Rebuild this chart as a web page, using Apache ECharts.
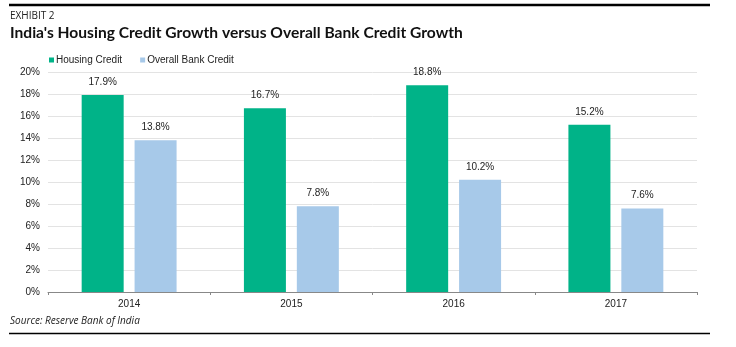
<!DOCTYPE html>
<html><head><meta charset="utf-8">
<script src="https://cdn.jsdelivr.net/npm/echarts@6/dist/echarts.min.js"></script>
<style>html,body{margin:0;padding:0;background:#fff}#c{width:736px;height:347px}</style>
</head><body><div id="c"></div>
<script>
var categories = ['2014', '2015', '2016', '2017'];
var housingCredit = [17.9, 16.7, 18.8, 15.2];
var bankCredit = [13.8, 7.8, 10.2, 7.6];
var yTicks = [0, 2, 4, 6, 8, 10, 12, 14, 16, 18, 20];

var chart = echarts.init(document.getElementById('c'));
var lbl = {show: true, position: 'top', distance: 8, formatter: function(p){return p.value.toFixed(1) + '%';}, fontFamily: 'Liberation Sans, Arial', fontSize: 10, color: '#222'};
chart.setOption({
  animation: false,
  graphic: [
    {type: 'line', shape: {x1: 9, y1: 5, x2: 710, y2: 5}, style: {stroke: '#000', lineWidth: 2.5}},
    {type: 'line', shape: {x1: 9, y1: 333.5, x2: 710, y2: 333.5}, style: {stroke: '#000', lineWidth: 1.5}},
    {type: 'text', left: 10, top: 11, style: {text: 'EXHIBIT 2', font: '10px "Open Sans", Arial', fill: '#222'}},
    {type: 'text', x: 10, y: 25, scaleX: 0.975, style: {text: "India's Housing Credit Growth versus Overall Bank Credit Growth", font: 'bold 16px Lato, "Open Sans", Arial', fill: '#111'}},
    {type: 'text', left: 10, top: 316, style: {text: 'Source: Reserve Bank of India', font: 'italic 10px "Open Sans", Arial', fill: '#222'}}
  ],
  legend: {
    left: 44, top: 50, itemWidth: 5, itemHeight: 5, itemGap: 18, icon: 'rect',
    textStyle: {fontFamily: 'Liberation Sans, Arial', fontSize: 10, color: '#222', padding: [0,0,0,-3]},
    data: ['Housing Credit', 'Overall Bank Credit']
  },
  grid: {left: 48, right: 39, top: 72, bottom: 55},
  xAxis: {
    type: 'category', data: categories,
    axisLine: {lineStyle: {color: '#888'}},
    axisTick: {show: true, alignWithLabel: false, length: 3, lineStyle: {color: '#888'}},
    axisLabel: {fontFamily: 'Liberation Sans, Arial', fontSize: 10, color: '#222', margin: 7}
  },
  yAxis: {
    type: 'value', min: 0, max: 20, interval: 2,
    axisLabel: {formatter: function(v){return yTicks.indexOf(v) >= 0 ? v + '%' : '';}, fontFamily: 'Liberation Sans, Arial', fontSize: 10, color: '#222', margin: 8},
    splitLine: {lineStyle: {color: '#e3e3e3'}},
    axisLine: {show: false}, axisTick: {show: false}
  },
  series: [
    {name: 'Housing Credit', type: 'bar', data: housingCredit, barWidth: 42, barGap: '26%', itemStyle: {color: '#00B388'}, label: lbl},
    {name: 'Overall Bank Credit', type: 'bar', data: bankCredit, barWidth: 42, itemStyle: {color: '#A7C9E9'}, label: lbl}
  ]
});
</script></body></html>
